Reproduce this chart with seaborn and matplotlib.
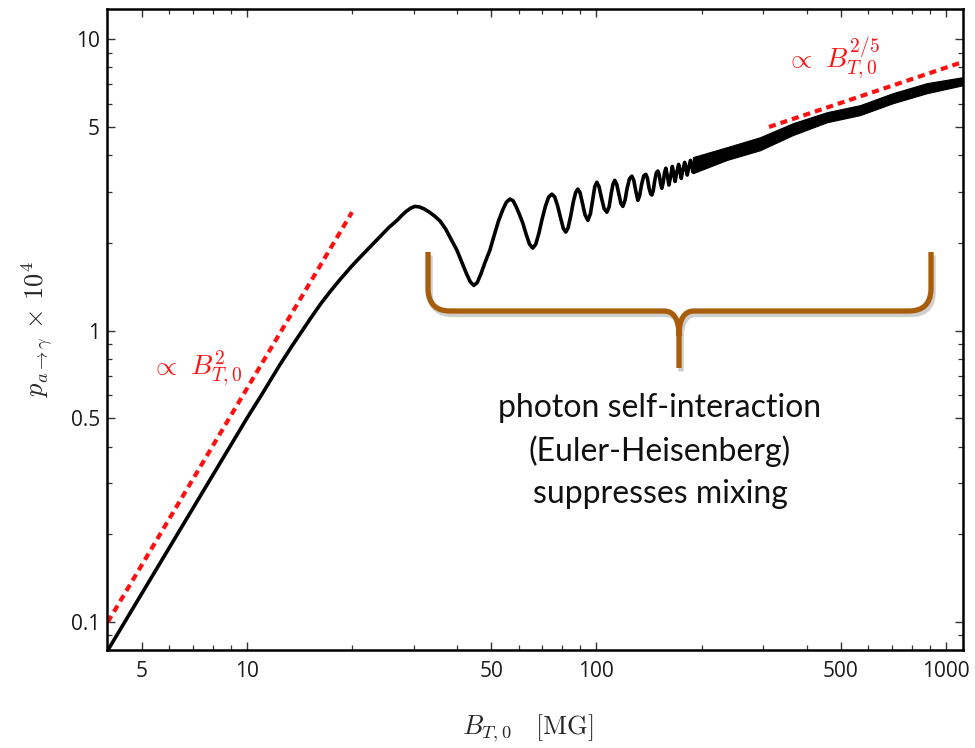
import matplotlib
matplotlib.use("Agg")
import numpy as np
import pandas as pd
import matplotlib.pyplot as plt
import seaborn as sns
from matplotlib.path import Path
from matplotlib.patches import PathPatch
import matplotlib.patheffects as pe
from matplotlib.ticker import FixedLocator, FixedFormatter, NullFormatter

# ---------------- data ----------------
curve_B = [4.0, 6.0, 8.0, 10.0, 11.0, 12.4, 13.5, 15.2, 16.3, 17.3, 18.5, 20.0,
           21.5, 23.0, 24.5, 25.5, 26.9, 27.8, 28.5, 29.4, 30.25, 31.1, 32.1,
           33.3, 34.5, 35.7, 37.0, 38.5, 39.9, 41.2, 42.5, 43.6, 44.6, 45.6,
           46.7, 48.0, 49.6, 51.0, 52.5, 54.0, 55.3, 56.6, 57.8, 59.0, 60.3,
           61.6, 63.0, 64.4, 65.8, 67.1, 68.5, 70.0, 71.5, 73.0, 74.6, 76.0,
           77.5, 79.0, 80.5, 81.8, 83.0, 84.5, 86.0, 87.3, 88.5, 89.8, 91.2,
           92.8, 94.6, 96.2, 97.8, 99.0, 100.3, 101.8, 103.5, 105.3, 107.2,
           108.8, 110.3, 111.6, 112.9, 114.4, 116.0, 117.6, 119.1, 120.8, 122.5,
           124.4, 126.4, 128.0, 129.8, 131.5, 133.0, 134.8, 136.7, 138.6, 140.0,
           141.6, 143.0, 144.2, 145.5, 147.0, 148.5, 150.0, 151.3, 152.7, 154.0,
           155.3, 156.7, 158.1, 159.7, 161.3, 163.2, 165.0, 166.6, 168.0, 170.0,
           172.0, 173.6, 175.0, 177.0, 179.0, 180.6, 182.0, 184.0, 186.0, 187.6,
           189.0, 191.0, 193.0]
curve_p = [0.080, 0.18, 0.32, 0.50, 0.60, 0.76, 0.89, 1.10, 1.24, 1.36, 1.50, 1.67,
           1.83, 1.99, 2.15, 2.26, 2.39, 2.49, 2.56, 2.63, 2.67, 2.66, 2.62,
           2.55, 2.47, 2.38, 2.24, 2.05, 1.89, 1.72, 1.57, 1.47, 1.43, 1.46,
           1.56, 1.71, 1.89, 2.12, 2.38, 2.60, 2.76, 2.83, 2.79, 2.66, 2.50,
           2.34, 2.14, 1.98, 1.92, 1.98, 2.16, 2.42, 2.67, 2.87, 2.94, 2.88,
           2.68, 2.44, 2.24, 2.18, 2.25, 2.48, 2.78, 2.98, 3.06, 2.98, 2.75,
           2.50, 2.39, 2.52, 2.85, 3.12, 3.23, 3.12, 2.85, 2.62, 2.55,
           2.66, 2.95, 3.18, 3.28, 3.18, 2.95, 2.73, 2.67, 2.80, 3.08,
           3.32, 3.39, 3.28, 3.00, 2.80, 2.90, 3.18, 3.40, 3.44, 3.34,
           3.08, 2.95, 2.92, 3.02, 3.28, 3.48, 3.53, 3.43, 3.20, 3.08,
           3.22, 3.48, 3.61, 3.40, 3.16, 3.38, 3.66, 3.45, 3.25, 3.50,
           3.72, 3.52, 3.33, 3.58, 3.78, 3.60, 3.42, 3.65, 3.84, 3.68,
           3.50, 3.72, 3.90]

# dense, rapidly oscillating part drawn as its envelope
band_B = [189, 236, 294, 365, 457, 568, 705, 883, 1118]
band_lo = [3.47, 3.85, 4.16, 4.69, 5.19, 5.49, 6.03, 6.53, 6.95]
band_hi = [3.94, 4.26, 4.61, 5.15, 5.62, 5.94, 6.53, 7.07, 7.41]

# power-law guide lines
fit_low_B = [4.0, 20.0]
fit_low_p = [0.10, 2.55]
fit_high_B = [312.0, 1100.0]
fit_high_p = [5.0, 8.3]

x_major = [5, 10, 50, 100, 500, 1000]
x_major_labels = ["5", "10", "50", "100", "500", "1000"]
x_minor = [6, 7, 8, 9, 20, 30, 40, 60, 70, 80, 90, 200, 300, 400, 600, 700, 800, 900]
y_major = [0.1, 0.5, 1, 5, 10]
y_major_labels = ["0.1", "0.5", "1", "5", "10"]
y_minor = [0.09, 0.2, 0.3, 0.4, 0.6, 0.7, 0.8, 0.9, 2, 3, 4, 6, 7, 8, 9]

annotation_text = "photon self-interaction\n(Euler-Heisenberg)\nsuppresses mixing"

# ---------------- style ----------------
sns.set_theme(style="ticks")
plt.rcParams["font.family"] = ["Open Sans", "DejaVu Sans"]
plt.rcParams["mathtext.fontset"] = "cm"

W, H = 975, 748
fig = plt.figure(figsize=(W / 100, H / 100), dpi=100)
fig.patch.set_facecolor("white")
ax = fig.add_axes([107 / W, 1 - 650 / H, (963 - 107) / W, (650 - 9) / H])
ax.set_facecolor("white")
ax.set_xscale("log")
ax.set_yscale("log")

df_curve = pd.DataFrame({"B": curve_B, "p": curve_p})
sns.lineplot(data=df_curve, x="B", y="p", ax=ax, color="black", lw=2.6,
             estimator=None, sort=False, solid_joinstyle="round")
ax.fill_between(band_B, band_lo, band_hi, color="black", lw=0.8, edgecolor="black")

sns.lineplot(x=fit_low_B, y=fit_low_p, ax=ax, color="#ff1010", lw=3.0,
             linestyle=(0, (1.7, 1.2)), estimator=None)
sns.lineplot(x=fit_high_B, y=fit_high_p, ax=ax, color="#ff1010", lw=3.0,
             linestyle=(0, (1.7, 1.2)), estimator=None)

ax.set_xlim(3.98, 1120)
ax.set_ylim(0.0802, 12.7)

# ticks
ax.xaxis.set_major_locator(FixedLocator(x_major))
ax.xaxis.set_major_formatter(FixedFormatter(x_major_labels))
ax.xaxis.set_minor_locator(FixedLocator(x_minor))
ax.xaxis.set_minor_formatter(NullFormatter())
ax.yaxis.set_major_locator(FixedLocator(y_major))
ax.yaxis.set_major_formatter(FixedFormatter(y_major_labels))
ax.yaxis.set_minor_locator(FixedLocator(y_minor))
ax.yaxis.set_minor_formatter(NullFormatter())
ax.tick_params(which="both", direction="in", top=True, right=True,
               colors="#333333", labelcolor="#1a1a1a")
ax.tick_params(which="major", length=6, width=1.0, labelsize=15)
ax.tick_params(which="minor", length=3.5, width=0.9)
ax.tick_params(axis="x", which="major", pad=8)
ax.tick_params(axis="y", which="major", pad=5)
for s in ax.spines.values():
    s.set_visible(True)
    s.set_color("black")
    s.set_linewidth(1.8)

ax.set_xlabel(r"$B_{T,0}\quad[\mathrm{MG}]$", fontsize=19)
ax.set_ylabel(r"$p_{a\to\gamma}\,\times\,10^4$", fontsize=19)
ax.xaxis.label.set_va("center")
ax.yaxis.label.set_va("center")
ax.xaxis.set_label_coords(0.492, -0.122)
ax.yaxis.set_label_coords(-0.082, 0.5)

# power-law labels
ax.text(7.2, 0.74, r"$\propto\ B_{T,0}^{2}$", color="#ff1010", fontsize=20,
        ha="center", va="center")
ax.text(475, 8.5, r"$\propto\ B_{T,0}^{2/5}$", color="#ff1010", fontsize=20,
        ha="center", va="center")

# brace (figure-pixel positions)
def fp(x, y):
    return (x / W, 1 - y / H)

verts = [fp(428, 252), fp(428, 290), fp(429, 311), fp(450, 311), fp(664, 311),
         fp(679, 311), fp(679, 336), fp(679, 368),
         fp(931, 252), fp(931, 290), fp(930, 311), fp(909, 311), fp(694, 311),
         fp(679, 311), fp(679, 336)]
codes = [Path.MOVETO, Path.LINETO, Path.CURVE3, Path.CURVE3, Path.LINETO,
         Path.CURVE3, Path.CURVE3, Path.LINETO,
         Path.MOVETO, Path.LINETO, Path.CURVE3, Path.CURVE3, Path.LINETO,
         Path.CURVE3, Path.CURVE3]
brace = PathPatch(Path(verts, codes), transform=fig.transFigure, fill=False,
                  edgecolor="#a85d0a", lw=3.8, capstyle="butt", joinstyle="round")
brace.set_path_effects([pe.SimpleLineShadow(offset=(1.5, -2.5), shadow_color="#888888",
                                            alpha=0.4, rho=1.0),
                        pe.Normal()])
fig.add_artist(brace)

fig.text(660 / W, 1 - 451 / H, annotation_text, ha="center", va="center",
         multialignment="center", fontsize=23, linespacing=1.5,
         family=["Lato", "DejaVu Sans"], color="#111111")

fig.savefig("out.png", dpi=100, facecolor="white")
